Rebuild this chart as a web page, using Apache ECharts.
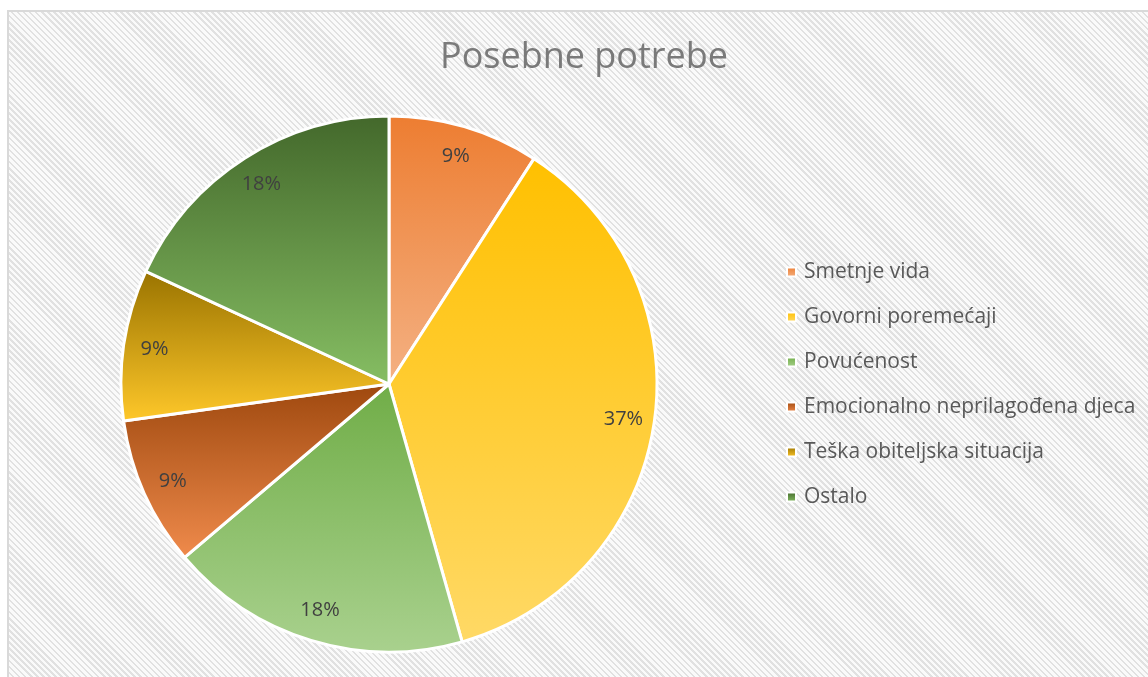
<!DOCTYPE html>
<html lang="hr">
  <head>
    <meta charset="UTF-8" />
    <title>Posebne potrebe</title>
    <script src="https://cdn.jsdelivr.net/npm/echarts@6/dist/echarts.min.js"></script>
    <style>
      html, body { margin: 0; padding: 0; background: #fff; }
      #main {
        position: absolute;
        left: 7px;
        top: 10px;
        width: 1160px;
        height: 680px;
        border: 2px solid #d9d9d9;
        background: repeating-linear-gradient(45deg, #e1e1e1 0px, #e1e1e1 1.8px, #fafafa 1.8px, #fafafa 4.3px);
      }
    </style>
  </head>
  <body>
    <div id="main"></div>
    <script>
      var categories = [
        "Smetnje vida",
        "Govorni poremećaji",
        "Povućenost",
        "Emocionalno neprilagođena djeca",
        "Teška obiteljska situacija",
        "Ostalo"
      ];
      var values = [9.1, 36.5, 18.2, 9.0, 9.1, 18.1];
      // gradient top -> bottom for each slice
      var topColors = ["#ED7D31", "#FFC000", "#70AD47", "#9E480E", "#997300", "#43682B"];
      var bottomColors = ["#F4B183", "#FFD966", "#A9D18E", "#F08B4C", "#FFC82A", "#86BE63"];

      function grad(i) {
        return new echarts.graphic.LinearGradient(0, 0, 0, 1, [
          { offset: 0, color: topColors[i] },
          { offset: 1, color: bottomColors[i] }
        ]);
      }

      var pieData = categories.map(function (name, i) {
        return { name: name, value: values[i], itemStyle: { color: grad(i) } };
      });
      var labelData = categories.map(function (name, i) {
        return { name: name, value: values[i] };
      });

      var font = "Open Sans";
      var chart = echarts.init(document.getElementById("main"));
      chart.setOption({
        animation: false,
        title: {
          text: "Posebne potrebe",
          left: 570,
          top: 23,
          textAlign: "center",
          textStyle: {
            fontFamily: font,
            fontWeight: "normal",
            fontSize: 36,
            color: "#7a7a7a"
          }
        },
        legend: {
          orient: "vertical",
          left: 772,
          top: 244,
          data: categories,
          icon: "rect",
          itemWidth: 9,
          itemHeight: 9,
          itemGap: 23,
          textStyle: {
            fontFamily: font,
            fontSize: 21,
            lineHeight: 22,
            color: "#595959",
            padding: [0, 0, 0, 3]
          }
        },
        series: [
          {
            type: "pie",
            center: [380, 372],
            radius: [0, 268],
            startAngle: 90,
            clockwise: true,
            data: pieData,
            itemStyle: { borderColor: "#fff", borderWidth: 3 },
            label: { show: false },
            labelLine: { show: false },
            silent: true
          },
          {
            type: "pie",
            center: [380, 372],
            radius: [200, 268],
            startAngle: 90,
            clockwise: true,
            data: labelData,
            itemStyle: { color: "rgba(0,0,0,0)" },
            silent: true,
            label: {
              show: true,
              position: "inside",
              fontFamily: font,
              fontSize: 20,
              color: "#404040",
              formatter: function (p) {
                return Math.round(p.percent) + "%";
              }
            },
            labelLine: { show: false }
          }
        ]
      });
    </script>
  </body>
</html>
